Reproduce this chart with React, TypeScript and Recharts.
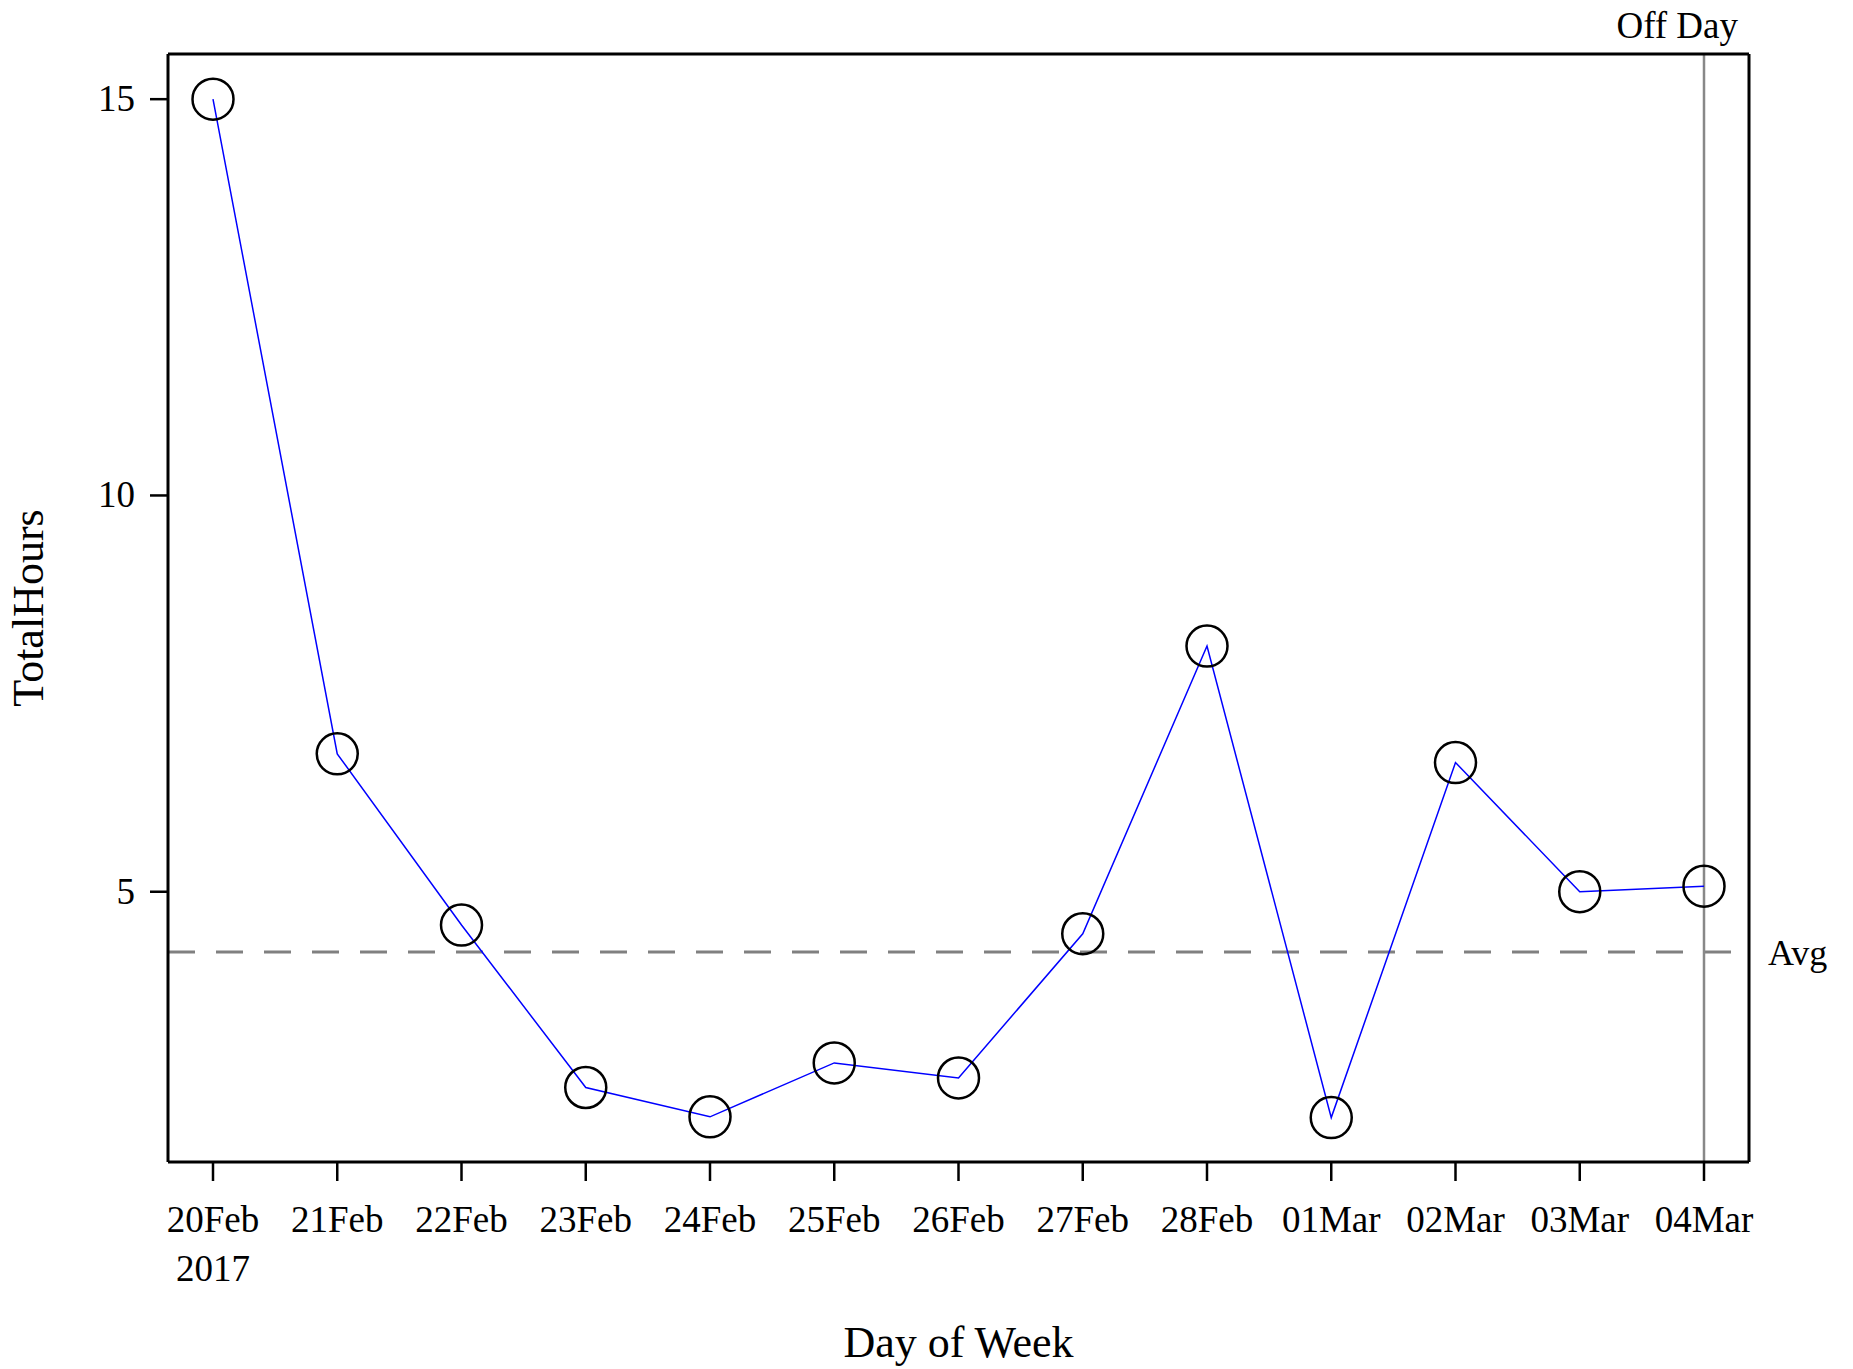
import React from 'react';
import { LineChart, Line, XAxis, YAxis, ReferenceLine } from 'recharts';

const days = ['20Feb', '21Feb', '22Feb', '23Feb', '24Feb', '25Feb', '26Feb', '27Feb', '28Feb', '01Mar', '02Mar', '03Mar', '04Mar'];
const hours = [15, 6.74, 4.58, 2.53, 2.16, 2.84, 2.65, 4.47, 8.1, 2.15, 6.63, 5.0, 5.07];
const yTicks = [5, 10, 15];
const yDomain = [1.59, 15.57];
const avgHours = 4.24;
const offDay = '04Mar';
const yearLabel = '2017';

const data = days.map((d, i) => ({ day: d, hours: hours[i] }));

const FONT = 'Liberation Serif';

const XTick = (props: any) => {
  const { x, y, payload, index } = props;
  return (
    <g>
      <text x={x} y={y} dy={51} textAnchor="middle" fontSize={37} fontFamily={FONT} fill="#000">
        {payload.value}
      </text>
      {index === 0 && (
        <text x={x} y={y} dy={100} textAnchor="middle" fontSize={37} fontFamily={FONT} fill="#000">
          {yearLabel}
        </text>
      )}
    </g>
  );
};

const YTick = (props: any) => {
  const { x, y, payload } = props;
  return (
    <text x={x} y={y} dy={12} textAnchor="end" fontSize={37} fontFamily={FONT} fill="#000">
      {payload.value}
    </text>
  );
};

export default function App() {
  return (
    <div style={{ position: 'absolute', left: 0, top: 0, background: '#fff' }}>
      <LineChart
        width={1853}
        height={1369}
        data={data}
        margin={{ top: 53, right: 103, bottom: 0, left: 0 }}
        style={{ fontFamily: FONT }}
      >
        <XAxis
          dataKey="day"
          type="category"
          padding={{ left: 45, right: 45 }}
          height={207}
          tickSize={19}
          tickMargin={0}
          axisLine={{ stroke: '#000', strokeWidth: 3 }}
          tickLine={{ stroke: '#000', strokeWidth: 2.5 }}
          tick={<XTick />}
          interval={0}
          label={(p: any) => {
            const vb = p.viewBox;
            return (
              <text x={vb.x + vb.width / 2} y={vb.y + 195} textAnchor="middle" fontSize={44} fontFamily={FONT} fill="#000">
                Day of Week
              </text>
            );
          }}
        />
        <XAxis
          xAxisId="top"
          dataKey="day"
          orientation="top"
          height={1}
          padding={{ left: 45, right: 45 }}
          tick={false}
          tickLine={false}
          axisLine={{ stroke: '#000', strokeWidth: 3 }}
        />
        <YAxis
          type="number"
          domain={yDomain}
          ticks={yTicks}
          allowDataOverflow
          width={168}
          tickSize={18}
          tickMargin={15}
          axisLine={{ stroke: '#000', strokeWidth: 3 }}
          tickLine={{ stroke: '#000', strokeWidth: 2.5 }}
          tick={<YTick />}
          label={(p: any) => {
            const vb = p.viewBox;
            const cx = vb.x + 43;
            const cy = vb.y + vb.height / 2;
            return (
              <text x={cx} y={cy} transform={`rotate(-90, ${cx}, ${cy})`} textAnchor="middle" fontSize={44} fontFamily={FONT} fill="#000">
                TotalHours
              </text>
            );
          }}
        />
        <YAxis
          yAxisId="right"
          orientation="right"
          type="number"
          domain={yDomain}
          allowDataOverflow
          width={1}
          tick={false}
          tickLine={false}
          axisLine={{ stroke: '#000', strokeWidth: 3 }}
        />
        <ReferenceLine
          y={avgHours}
          stroke="#808080"
          strokeWidth={3}
          strokeDasharray="27 21"
          label={(p: any) => {
            const vb = p.viewBox;
            return (
              <text x={vb.x + vb.width + 19} y={vb.y + 13} textAnchor="start" fontSize={36} fontFamily={FONT} fill="#000">
                Avg
              </text>
            );
          }}
        />
        <ReferenceLine
          x={offDay}
          stroke="#888888"
          strokeWidth={2.5}
          label={(p: any) => {
            const vb = p.viewBox;
            return (
              <text x={vb.x + 34} y={vb.y - 16} textAnchor="end" fontSize={37} fontFamily={FONT} fill="#000">
                Off Day
              </text>
            );
          }}
        />
        <Line
          xAxisId="top"
          yAxisId="right"
          type="linear"
          dataKey="hours"
          stroke="none"
          strokeWidth={0}
          dot={false}
          activeDot={false}
          legendType="none"
          isAnimationActive={false}
        />
        <Line
          type="linear"
          dataKey="hours"
          stroke="#0000ff"
          strokeWidth={1.5}
          dot={{ r: 20.5, stroke: '#000', strokeWidth: 2.5, fill: 'none' }}
          activeDot={false}
          isAnimationActive={false}
        />
      </LineChart>
    </div>
  );
}
